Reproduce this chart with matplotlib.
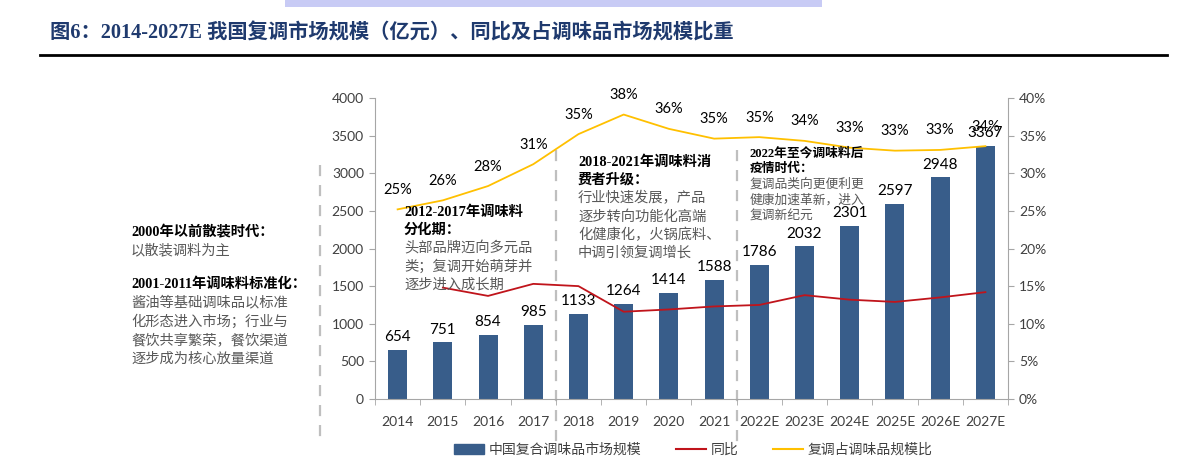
import numpy as np
import matplotlib.pyplot as plt
from matplotlib.patches import Patch, Rectangle
from matplotlib.lines import Line2D
from matplotlib.ticker import FuncFormatter, MultipleLocator, FixedLocator

plt.rcParams['font.family'] = ['Lato', 'Noto Sans CJK SC', 'DejaVu Sans']

# --- data ---
years = ['2014', '2015', '2016', '2017', '2018', '2019', '2020', '2021',
         '2022E', '2023E', '2024E', '2025E', '2026E', '2027E']
market_size = [654, 751, 854, 985, 1133, 1264, 1414, 1588, 1786, 2032, 2301, 2597, 2948, 3367]
yoy = [np.nan, 14.8, 13.7, 15.3, 15.0, 11.6, 11.9, 12.3, 12.5, 13.8, 13.2, 12.9, 13.5, 14.2]
share = [25.2, 26.4, 28.3, 31.2, 35.2, 37.8, 35.9, 34.6, 34.8, 34.3, 33.4, 33.0, 33.1, 33.6]
share_labels = ['25%', '26%', '28%', '31%', '35%', '38%', '36%', '35%',
                '35%', '34%', '33%', '33%', '33%', '34%']

BAR_C = '#385D8A'
RED_C = '#C0141B'
YEL_C = '#FFC000'
AX_C = '#A6A6A6'
TXT_C = '#404040'

W, H = 1178, 465
fig = plt.figure(figsize=(W / 100, H / 100), dpi=100)


def fx(px):
    return px / W


def fy(py):
    return 1 - py / H


# header: highlight band, title, rule
fig.patches.append(Rectangle((fx(285), fy(7)), fx(822) - fx(285), 7 / H,
                             transform=fig.transFigure, color='#C8CBF5', lw=0))
fig.text(fx(50), fy(33), '图6：2014-2027E 我国复调市场规模（亿元）、同比及占调味品市场规模比重',
         family=['Liberation Serif', 'Noto Sans CJK SC'], weight='bold',
         fontsize=14.6, color='#1F3A6E', va='center', ha='left')
fig.add_artist(Line2D([fx(40), fx(1167)], [fy(55), fy(55)], color='black', lw=2,
                      transform=fig.transFigure))

# --- main axes ---
ax = fig.add_axes([fx(375), fy(399), fx(1008) - fx(375), (399 - 98) / H])
x = np.arange(len(years))
ax.bar(x, market_size, width=0.42, color=BAR_C, zorder=2)
for xi, v in zip(x, market_size):
    ax.annotate(str(v), (xi, v), xytext=(0, 4), textcoords='offset points',
                ha='center', va='bottom', fontsize=11, color='black')

ax.set_xlim(-0.5, len(years) - 0.5)
ax.set_ylim(0, 4000)
ax.yaxis.set_major_locator(MultipleLocator(500))
ax.set_xticks(x)
ax.set_xticklabels(years)
ax.xaxis.set_minor_locator(FixedLocator(np.arange(-0.5, len(years), 1.0)))
ax.tick_params(axis='x', which='major', length=0, pad=12, labelsize=10, labelcolor=TXT_C)
ax.tick_params(axis='x', which='minor', length=4, color=AX_C, direction='out')
ax.tick_params(axis='y', length=4, color=AX_C, labelsize=10, labelcolor=TXT_C, pad=4)
for s in ['top', 'right']:
    ax.spines[s].set_visible(False)
for s in ['left', 'bottom']:
    ax.spines[s].set_color(AX_C)

ax2 = ax.twinx()
ax2.plot(x, yoy, color=RED_C, lw=1.3, zorder=3)
ax2.plot(x, share, color=YEL_C, lw=1.3, zorder=3)
for xi, v, lab in zip(x, share, share_labels):
    ax2.annotate(lab, (xi, v), xytext=(0, 9), textcoords='offset points',
                 ha='center', va='bottom', fontsize=10.5, color='black')
ax2.set_ylim(0, 40)
ax2.yaxis.set_major_locator(MultipleLocator(5))
ax2.yaxis.set_major_formatter(FuncFormatter(lambda v, p: f'{v:.0f}%'))
ax2.tick_params(axis='y', length=4, color=AX_C, labelsize=10, labelcolor=TXT_C, pad=4)
for s in ['top', 'left', 'bottom']:
    ax2.spines[s].set_visible(False)
ax2.spines['right'].set_color(AX_C)

# dashed period separators (x in category units, y in axes units)
sep_x = [-1.72, 3.5, 7.5]
sep_y = [(0.777, -0.153), (0.827, -0.153), (0.827, -0.169)]
for sx, (y0, y1) in zip(sep_x, sep_y):
    ax.add_line(Line2D([sx, sx], [y0, y1], color='#BFBFBF', lw=1.6, dashes=(5, 4),
                       transform=ax.get_xaxis_transform(), clip_on=False, zorder=1))

# --- period annotations ---
BOLD_FAM = ['Liberation Serif', 'Noto Sans CJK SC']


def text_block(x0, y0, lines, size, step):
    for i, (s, bold) in enumerate(lines):
        if bold:
            fig.text(fx(x0), fy(y0 + i * step), s, family=BOLD_FAM, weight='bold',
                     fontsize=size, color='black', va='center')
        else:
            fig.text(fx(x0), fy(y0 + i * step), s, family=['Noto Sans CJK SC'],
                     fontsize=size, color='#595959', va='center')


text_block(131, 232, [('2000年以前散装时代：', True), ('以散装调料为主', False)], 10.3, 18.5)
text_block(131, 284, [('2001-2011年调味料标准化：', True), ('酱油等基础调味品以标准', False),
                      ('化形态进入市场；行业与', False), ('餐饮共享繁荣，餐饮渠道', False),
                      ('逐步成为核心放量渠道', False)], 10.3, 18.6)
text_block(404, 212, [('2012-2017年调味料', True), ('分化期：', True), ('头部品牌迈向多元品', False),
                      ('类；复调开始萌芽并', False), ('逐步进入成长期', False)], 10.3, 18.2)
text_block(578, 162, [('2018-2021年调味料消', True), ('费者升级：', True), ('行业快速发展，产品', False),
                      ('逐步转向功能化高端', False), ('化健康化，火锅底料、', False),
                      ('中调引领复调增长', False)], 10.3, 18.2)
text_block(750, 153, [('2022年至今调味料后', True), ('疫情时代：', True), ('复调品类向更便利更', False),
                      ('健康加速革新，进入', False), ('复调新纪元', False)], 9.2, 15.7)

# --- legend ---
handles = [Patch(color=BAR_C), Line2D([], [], color=RED_C, lw=1.5),
           Line2D([], [], color=YEL_C, lw=1.5)]
labels = ['中国复合调味品市场规模', '同比', '复调占调味品规模比']
leg = fig.legend(handles, labels, loc='center', bbox_to_anchor=(fx(693), fy(450)), ncol=3,
                 frameon=False, handlelength=2.2, handleheight=0.7,
                 handletextpad=0.3, columnspacing=2.5,
                 prop={'family': ['Noto Sans CJK SC'], 'size': 10})
for t in leg.get_texts():
    t.set_color(TXT_C)

fig.savefig('out.png', dpi=100)
